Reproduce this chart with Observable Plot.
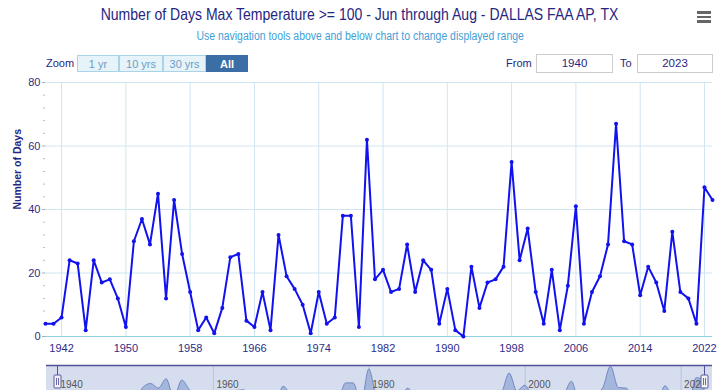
<!DOCTYPE html>
<html>
<head>
<meta charset="utf-8">
<script src="https://cdn.jsdelivr.net/npm/d3@7"></script>
<script src="https://cdn.jsdelivr.net/npm/@observablehq/plot@0.6"></script>
<style>
  html, body { margin: 0; padding: 0; background: #fff; }
  body { width: 720px; height: 390px; overflow: hidden; position: relative; font-family: "Liberation Sans", Arial, sans-serif; }
  .abs { position: absolute; }
  #title { top: 5px; left: 0; width: 720px; text-align: center; font-size: 16.5px; color: #262680; }
  #subtitle { top: 29px; left: 0; width: 720px; text-align: center; font-size: 12px; color: #3fa0d6; }
  .sq { display: inline-block; transform: scaleX(0.85); transform-origin: center; white-space: nowrap; }
  #menu { left: 697px; top: 11px; width: 14px; }
  #menu div { height: 2.5px; background: #666; margin-bottom: 2px; }
  .btn { top: 55px; height: 17px; line-height: 17px; text-align: center; font-size: 11px; box-sizing: border-box; border: 1px solid #a9d3e8; background: #e6f4fa; color: #6b9cc6; }
  .btn.sel { background: #3b6ea5; color: #fff; font-weight: bold; border-color: #3b6ea5; }
  .lbl { font-size: 11px; color: #262680; top: 57px; }
  .inp { top: 54px; height: 19px; line-height: 17px; box-sizing: border-box; border: 1px solid #ccc; text-align: center; font-size: 11.5px; color: #262680; background: #fff; }
  #chart { left: 0; top: 75px; }
  #nav { left: 0; top: 365px; }
  #navbg { left: 46px; top: 365px; width: 666px; height: 40px; background: #d6ddef; }
</style>
</head>
<body>
<div id="title" class="abs"><span class="sq">Number of Days Max Temperature &gt;= 100 - Jun through Aug - DALLAS FAA AP, TX</span></div>
<div id="subtitle" class="abs"><span class="sq" style="transform:scaleX(0.87)">Use navigation tools above and below chart to change displayed range</span></div>
<div id="menu" class="abs"><div></div><div></div><div></div></div>
<div class="abs lbl" style="left:46px">Zoom</div>
<div id="zoomBtns"></div>
<div class="abs lbl" style="left:506px">From</div>
<div class="abs inp" id="fromBox" style="left:536px;width:77px"></div>
<div class="abs lbl" style="left:620px">To</div>
<div class="abs inp" id="toBox" style="left:637px;width:76px"></div>
<div id="navbg" class="abs"></div>
<div id="chart" class="abs"></div>
<div id="nav" class="abs"></div>
<script>
// ---- data ----
const years = [1940,1941,1942,1943,1944,1945,1946,1947,1948,1949,
  1950,1951,1952,1953,1954,1955,1956,1957,1958,1959,
  1960,1961,1962,1963,1964,1965,1966,1967,1968,1969,
  1970,1971,1972,1973,1974,1975,1976,1977,1978,1979,
  1980,1981,1982,1983,1984,1985,1986,1987,1988,1989,
  1990,1991,1992,1993,1994,1995,1996,1997,1998,1999,
  2000,2001,2002,2003,2004,2005,2006,2007,2008,2009,
  2010,2011,2012,2013,2014,2015,2016,2017,2018,2019,
  2020,2021,2022,2023];
const days = [4,4,6,24,23,2,24,17,18,12,
  3,30,37,29,45,12,43,26,14,2,
  6,1,9,25,26,5,3,14,2,32,
  19,15,10,1,14,4,6,38,38,3,
  62,18,21,14,15,29,14,24,21,4,
  15,2,0,22,9,17,18,22,55,24,
  34,14,4,21,2,16,41,4,14,19,
  29,67,30,29,13,22,17,8,33,14,
  12,4,47,43];
const xTicks = [1942,1950,1958,1966,1974,1982,1990,1998,2006,2014,2022];
const yTicks = [0,20,40,60,80];
const yMinor = [4,8,12,16,24,28,32,36,44,48,52,56,64,68,72,76];
const navTicks = [1940,1960,1980,2000,2020];
const zoomLabels = ["1 yr","10 yrs","30 yrs","All"];
const fromYear = "1940", toYear = "2023";
const yTitle = "Number of Days";

const data = years.map((y, i) => ({year: y, days: days[i]}));

// ---- range selector UI ----
const btnX = [77,119,163,206], btnW = [42,44,43,42];
const zb = document.getElementById("zoomBtns");
zoomLabels.forEach((t, i) => {
  const d = document.createElement("div");
  d.className = "abs btn" + (i === 3 ? " sel" : "");
  d.style.left = btnX[i] + "px"; d.style.width = btnW[i] + "px";
  d.textContent = t; zb.appendChild(d);
});
document.getElementById("fromBox").textContent = fromYear;
document.getElementById("toBox").textContent = toYear;

// ---- main chart ----
const lineColor = "#1212ee";
const grid = "#cfe5f2";
const chart = Plot.plot({
  width: 720, height: 290,
  marginLeft: 45, marginRight: 8, marginTop: 7, marginBottom: 29,
  style: {fontFamily: "'Liberation Sans', Arial, sans-serif", background: "transparent"},
  x: {domain: [1940, 2023]},
  y: {domain: [0, 80]},
  marks: [
    Plot.gridX(xTicks, {stroke: grid, strokeOpacity: 1}),
    Plot.gridY(yTicks.slice(1), {stroke: grid, strokeOpacity: 1}),
    Plot.ruleY([0], {stroke: "#8dd0e3", strokeWidth: 1.2}),
    Plot.axisY(yMinor, {tickSize: 2, text: null, stroke: "#bbb", label: null}),
    Plot.axisY(yTicks, {tickSize: 3, tickPadding: 2, stroke: "#aaa", fill: "#2d2d88", fontSize: 11, label: null}),
    Plot.axisX(xTicks, {tickSize: 0, tickPadding: 8, fill: "#2d2d88", fontSize: 11, label: null, tickFormat: d => String(d)}),
    Plot.text([yTitle], {frameAnchor: "left", dx: -28, rotate: -90, fill: "#262680", fontSize: 10.5, fontWeight: "bold"}),
    Plot.line(data, {x: "year", y: "days", stroke: lineColor, strokeWidth: 2}),
    Plot.dot(data, {x: "year", y: "days", r: 2, fill: lineColor, stroke: null})
  ]
});
document.getElementById("chart").appendChild(chart);

// ---- navigator ----
const nav = Plot.plot({
  width: 720, height: 40,
  marginLeft: 57, marginRight: 16, marginTop: 1, marginBottom: 0,
  style: {fontFamily: "'Liberation Sans', Arial, sans-serif", background: "transparent", overflow: "visible"},
  x: {domain: [1940, 2023], axis: null},
  y: {domain: [0, 67], axis: null},
  marks: [
    Plot.ruleX(navTicks.slice(1), {stroke: "#b8c2dc", strokeWidth: 1}),
    Plot.areaY(data, {x: "year", y: "days", curve: "monotone-x", fill: "#9fb1d8", fillOpacity: 0.9, stroke: "#7189c2", strokeWidth: 1}),
    Plot.text(navTicks, {x: d => d, text: d => String(d), frameAnchor: "top", dx: 3, dy: 14, textAnchor: "start", lineAnchor: "top", fill: "#555", fontSize: 10}),
    (index, scales, values, dims) => {
      const g = d3.create("svg:g");
      // outline along top of navigator
      g.append("line").attr("x1", 46).attr("x2", 712).attr("y1", 0.5).attr("y2", 0.5)
        .attr("stroke", "#52529a").attr("stroke-width", 1.3);
      for (const yr of [years[0], years[years.length - 1]]) {
        const x = Math.round(scales.x(yr)) + 0.5;
        g.append("line").attr("x1", x).attr("x2", x).attr("y1", 0).attr("y2", 10).attr("stroke", "#52529a");
        g.append("rect").attr("x", x - 3.5).attr("y", 10).attr("width", 7).attr("height", 13)
          .attr("fill", "#f2f2f2").attr("stroke", "#5a5aa0").attr("rx", 1);
        g.append("line").attr("x1", x - 1).attr("x2", x - 1).attr("y1", 13).attr("y2", 20).attr("stroke", "#6a6aa8");
        g.append("line").attr("x1", x + 1).attr("x2", x + 1).attr("y1", 13).attr("y2", 20).attr("stroke", "#6a6aa8");
      }
      return g.node();
    }
  ]
});
document.getElementById("nav").appendChild(nav);
</script>
</body>
</html>
